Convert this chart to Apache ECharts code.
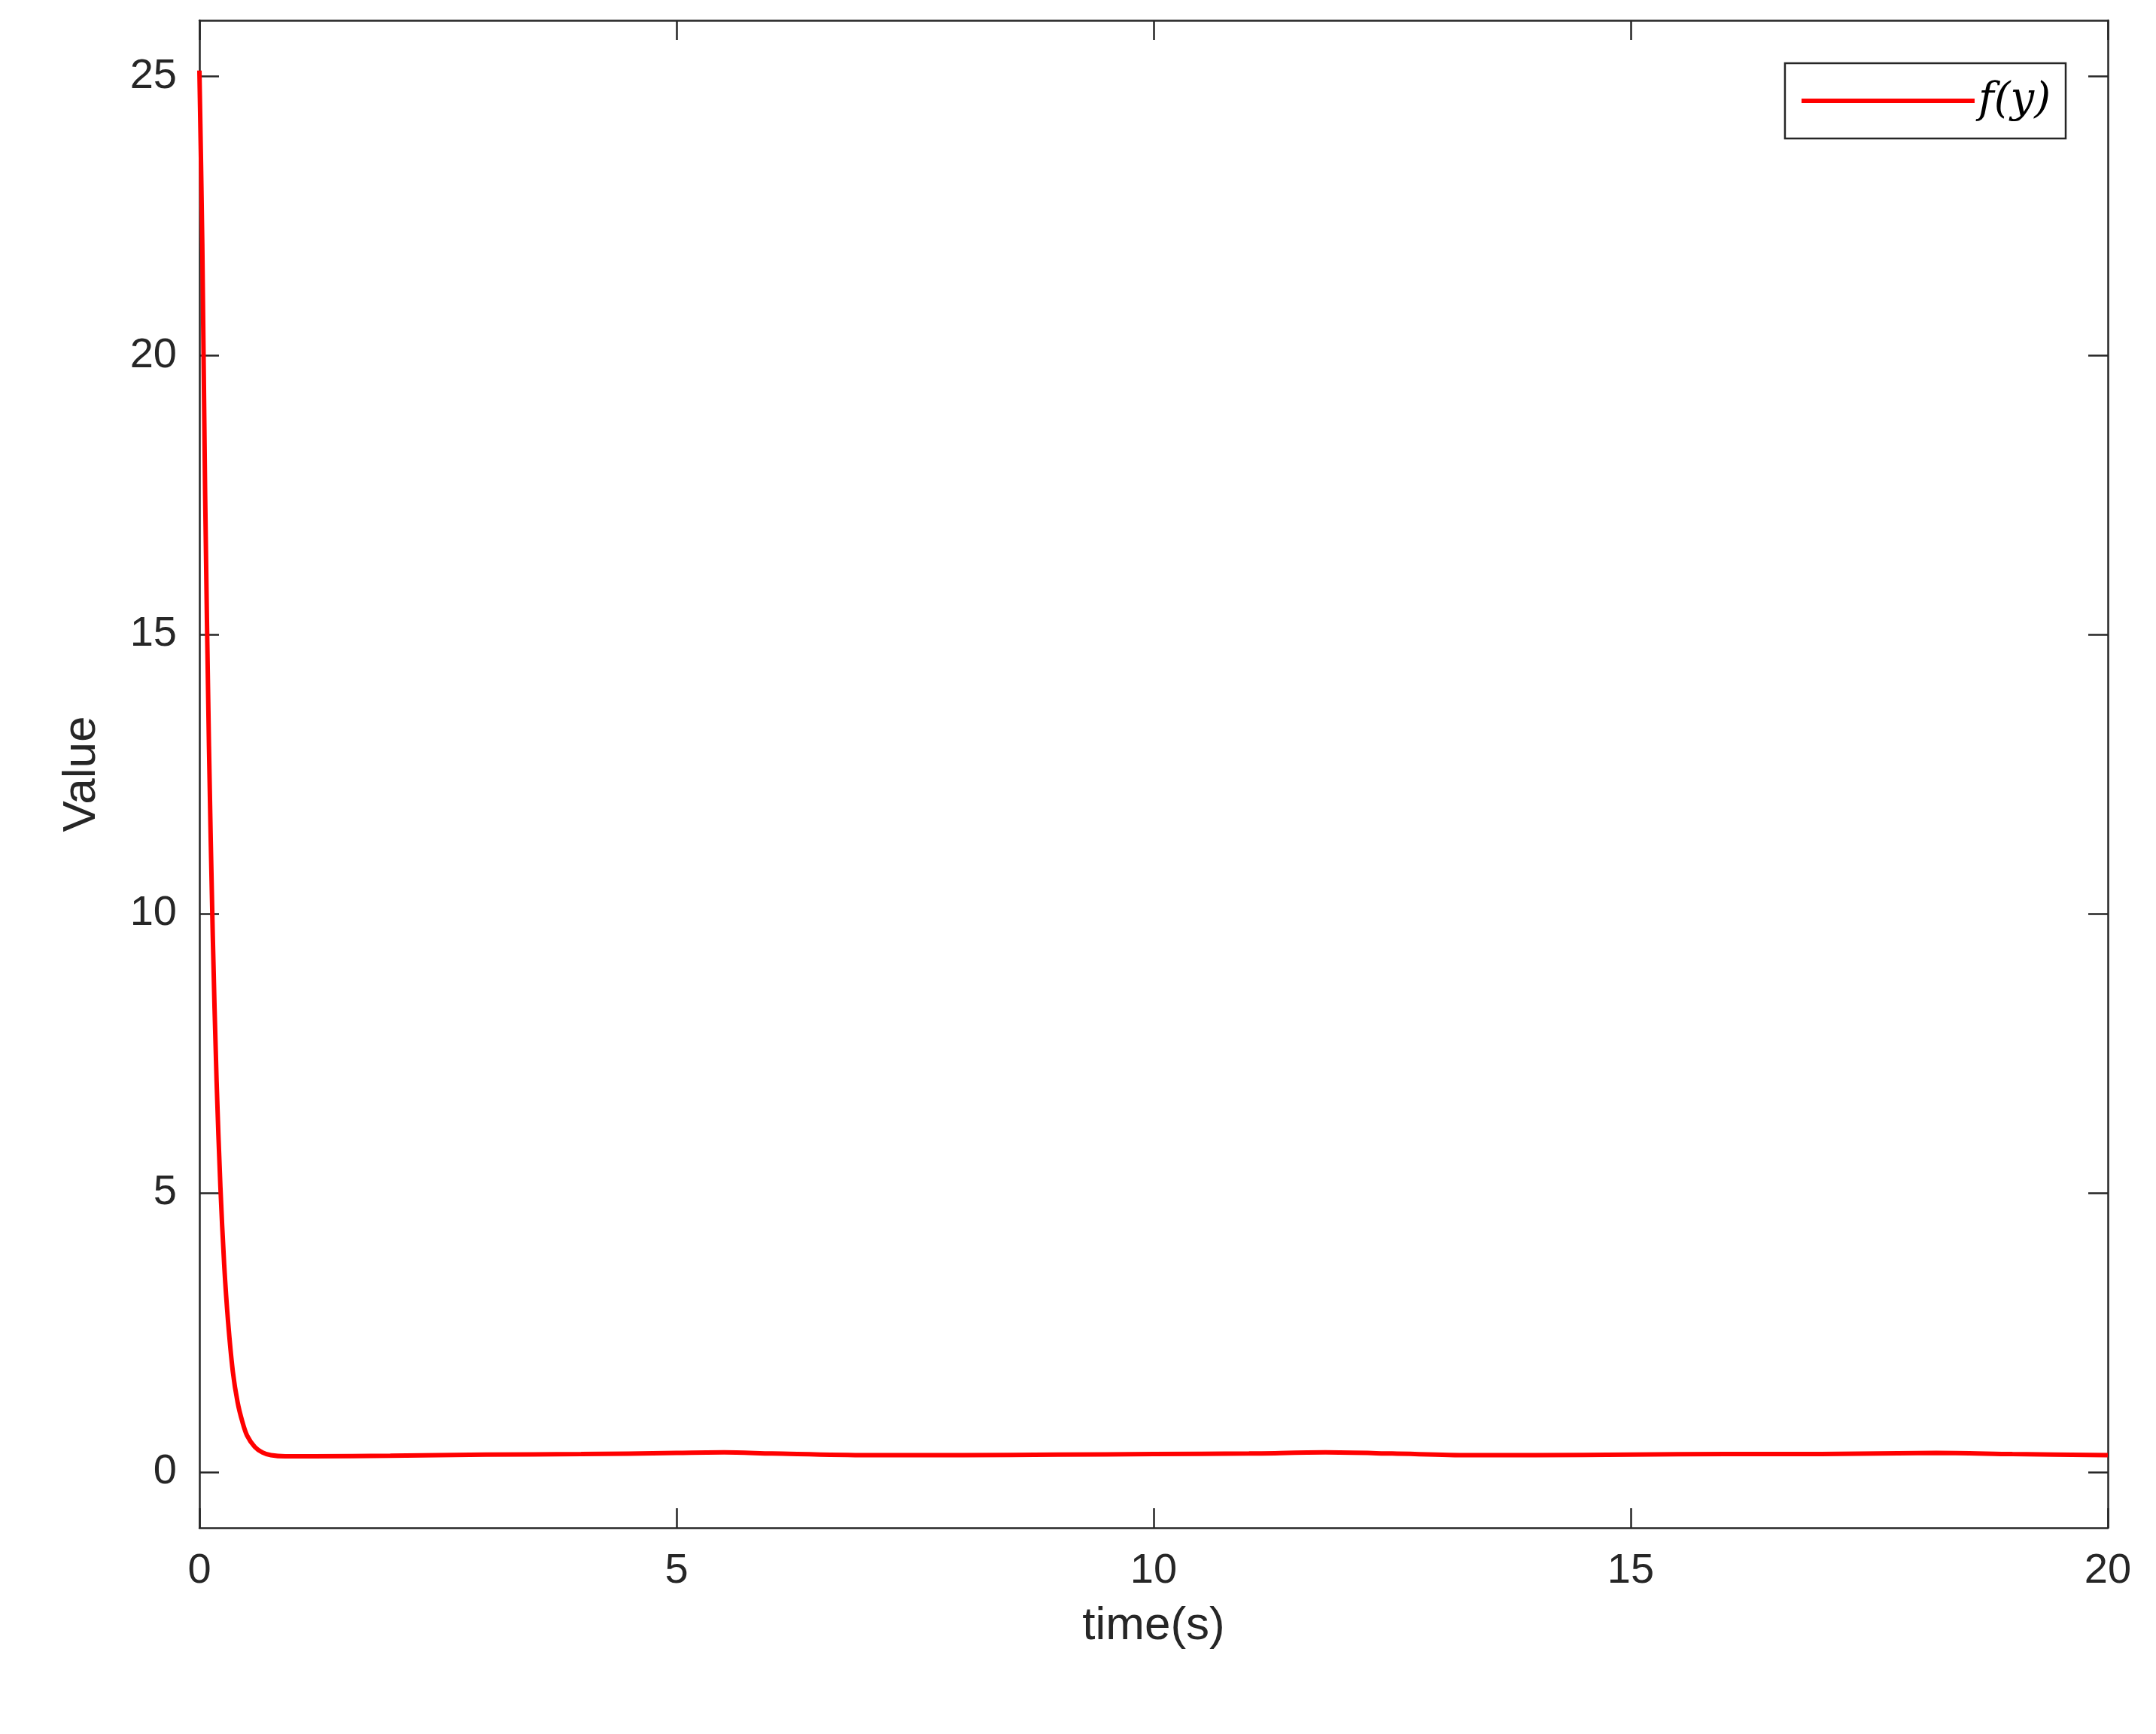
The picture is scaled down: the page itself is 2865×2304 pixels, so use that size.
<!DOCTYPE html>
<html>
<head>
<meta charset="utf-8">
<script src="https://cdn.jsdelivr.net/npm/echarts@6/dist/echarts.min.js"></script>
<style>html,body{margin:0;padding:0;background:#fff}#chart{width:2865px;height:2304px}</style>
</head>
<body>
<div id="chart"></div>
<script>
// values
var timeS = [0, 0.03, 0.06, 0.1, 0.14, 0.18, 0.22, 0.26, 0.3, 0.35, 0.4, 0.45, 0.5, 0.58, 0.66, 0.75, 0.9, 1.2, 2, 3, 4, 5, 5.5, 6, 7, 8, 9, 10, 11, 11.8, 12.5, 13.3, 14, 15, 16, 17, 18.2, 19, 20];
var fy = [25.1, 22, 17.5, 13, 9.6, 7, 5.1, 3.7, 2.7, 1.8, 1.25, 0.9, 0.65, 0.45, 0.35, 0.3, 0.28, 0.28, 0.29, 0.31, 0.32, 0.34, 0.35, 0.33, 0.3, 0.3, 0.31, 0.32, 0.33, 0.35, 0.33, 0.3, 0.3, 0.31, 0.32, 0.32, 0.34, 0.32, 0.3];
var xTicks = [0, 5, 10, 15, 20];
var yTicks = [0, 5, 10, 15, 20, 25];

var points = timeS.map(function (t, i) { return [t, fy[i]]; });
var axisColor = '#262626';
var font = 'Liberation Sans, Arial, sans-serif';

function xAxis(show, pos) {
	return {
		type: 'value', position: pos, min: 0, max: 20, interval: 5,
		name: show ? 'time(s)' : '', nameLocation: 'middle', nameGap: 100,
		nameTextStyle: { fontSize: 62, color: axisColor, fontFamily: font },
		axisLine: { show: true, onZero: false, lineStyle: { color: axisColor, width: 2.5 } },
		axisTick: { show: true, inside: true, length: 26, lineStyle: { color: axisColor, width: 2.5 } },
		axisLabel: { show: show, fontSize: 56, color: axisColor, fontFamily: font, margin: 30 },
		splitLine: { show: false }
	};
}
function yAxis(show, pos) {
	return {
		type: 'value', position: pos, min: -1, max: 26,
		name: show ? 'Value' : '', nameLocation: 'middle', nameGap: 125,
		nameTextStyle: { fontSize: 62, color: axisColor, fontFamily: font },
		axisLine: { show: true, onZero: false, lineStyle: { color: axisColor, width: 2.5 } },
		axisTick: { show: true, inside: true, length: 26, lineStyle: { color: axisColor, width: 2.5 },
			customValues: yTicks },
		axisLabel: { show: show, fontSize: 56, color: axisColor, fontFamily: font, margin: 30,
			customValues: yTicks },
		splitLine: { show: false }
	};
}

var chart = echarts.init(document.getElementById('chart'));
chart.setOption({
	backgroundColor: '#fff',
	animation: false,
	grid: { left: 265, right: 64, top: 27, bottom: 274 },
	xAxis: [xAxis(true, 'bottom'), xAxis(false, 'top')],
	yAxis: [yAxis(true, 'left'), yAxis(false, 'right')],
	legend: {
		right: 120, top: 84,
		data: ['f(y)'],
		itemWidth: 230, itemHeight: 6, itemGap: 10,
		padding: [22, 20, 22, 22],
		borderColor: axisColor, borderWidth: 2.5,
		backgroundColor: '#fff',
		textStyle: { fontSize: 56, fontStyle: 'italic', fontFamily: 'DejaVu Serif, serif', color: '#000' },
		icon: 'rect'
	},
	series: [{
		name: 'f(y)', type: 'line', data: points, smooth: 0.3,
		symbol: 'none', color: '#ff0000',
		lineStyle: { width: 6, color: '#ff0000' }
	}]
});
</script>
</body>
</html>
